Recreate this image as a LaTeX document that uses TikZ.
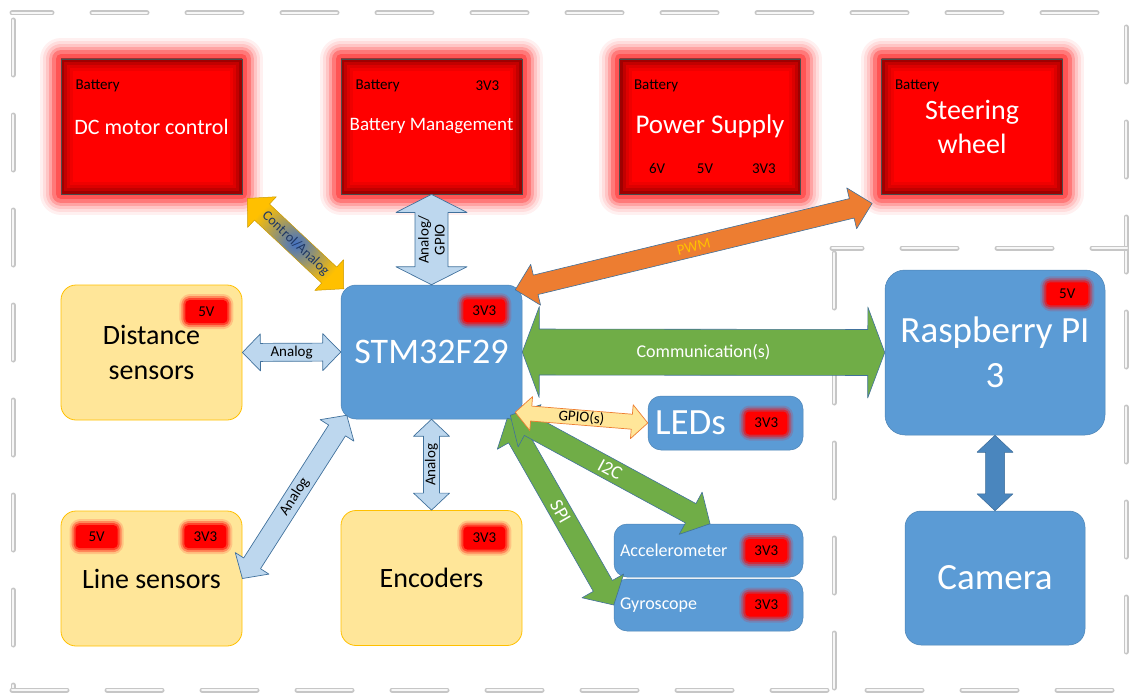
\documentclass[tikz,border=0pt]{standalone}
\usepackage{fontspec}
\setmainfont{Carlito}
\usetikzlibrary{calc}

\definecolor{msblue}{HTML}{5B9BD5}
\definecolor{msyellow}{HTML}{FFE699}
\definecolor{msgold}{HTML}{FFC000}
\definecolor{msgreen}{HTML}{70AD47}
\definecolor{msorange}{HTML}{ED7D31}
\definecolor{mslight}{HTML}{BDD7EE}
\definecolor{msedge}{HTML}{41719C}
\definecolor{camblue}{HTML}{4A86BE}
\definecolor{ctrlblue}{HTML}{4472C4}
\definecolor{ctrltext}{HTML}{203864}
\definecolor{glowred}{HTML}{FF3B3B}

\newcommand\fs[2]{\fontsize{#1}{#2}\selectfont}

% double headed block arrow: name, style, from, to, shaft half, head half, head length, label, label style
\newcommand\barrow[9]{%
  \draw[#2] (#3) -- ($(#3)!#7!(#4)!#6!90:(#4)$) -- ($(#3)!#7!(#4)!#5!90:(#4)$)
    -- ($(#4)!#7!(#3)!#5!-90:(#3)$) -- ($(#4)!#7!(#3)!#6!-90:(#3)$) -- (#4)
    -- ($(#4)!#7!(#3)!#6!90:(#3)$) -- ($(#4)!#7!(#3)!#5!90:(#3)$)
    -- ($(#3)!#7!(#4)!#5!-90:(#4)$) -- ($(#3)!#7!(#4)!#6!-90:(#4)$) -- cycle;
  \path let \p1=($(#4)-(#3)$), \n1={atan2(\y1,\x1)} in
    node[alabel, #9, rotate=\n1] (#1) at ($(#3)!.5!(#4)$) {#8};}

\tikzset{
  frame/.style={draw=gray!45, double=gray!6, double distance=2pt, line width=1.5pt,
    line cap=round, dash pattern=on 55pt off 40pt},
  redbox/.style={fill=red, draw=black!70, line width=.8pt,
    minimum width=181pt, minimum height=135pt, text=white, align=center,
    preaction={draw=glowred, draw opacity=.08, line width=42pt, line join=round},
    preaction={draw=glowred, draw opacity=.1, line width=36pt, line join=round},
    preaction={draw=glowred, draw opacity=.15, line width=30pt, line join=round},
    preaction={draw=glowred, draw opacity=.25, line width=24pt, line join=round},
    preaction={draw=glowred, draw opacity=.4, line width=18pt, line join=round},
    preaction={draw=glowred, draw opacity=.6, line width=10pt, line join=round},
    path picture={
      \foreach \w/\o in {24/.06, 18/.08, 12/.12, 6/.18}
        \draw[black, line width=\w pt, opacity=\o]
          (path picture bounding box.south west) rectangle (path picture bounding box.north east);
    }},
  tag/.style={inner sep=0pt, text=black, font=\fs{15}{18}},
  volt/.style={fill=red, minimum width=42pt, minimum height=23pt, inner sep=0pt,
    rounded corners=4pt, text=black, font=\fs{15}{18},
    preaction={draw=red, draw opacity=.15, line width=12pt, line join=round},
    preaction={draw=red, draw opacity=.3, line width=8pt, line join=round},
    preaction={draw=red, draw opacity=.5, line width=4pt, line join=round}},
  yellowbox/.style={fill=msyellow, draw=msgold, line width=.8pt, rounded corners=15pt,
    minimum width=181pt, minimum height=135pt, align=center, font=\fs{28}{35}},
  bluebox/.style={fill=msblue, draw=msblue!85!black, line width=.5pt, rounded corners=15pt,
    text=white, align=center},
  alabel/.style={inner sep=0pt, text=black, font=\fs{15}{16}},
  lightarrow/.style={fill=mslight, draw=msedge, line width=.7pt, line join=round},
  greenarrow/.style={fill=msgreen, draw=msedge, line width=.6pt, line join=round},
  orangearrow/.style={fill=msorange, draw=msedge, line width=.6pt, line join=round},
  gpioarrow/.style={fill=msyellow, draw=msorange, line width=.7pt, line join=round},
  camarrow/.style={fill=camblue, draw=camblue!80!black, line width=.5pt, line join=round},
  ctrlarrow/.style={inner color=ctrlblue, outer color=msgold, draw=msgold!80!black,
    line width=.5pt, line join=round},
}

\begin{document}
\begin{tikzpicture}[x=1pt, y=-1pt]
  \useasboundingbox (0,0) rectangle (1129,693);

  % dashed frames
  \draw[frame, dash phase=15pt] (12,13) -- (1127,13);
  \draw[frame] (13,20) -- (13,690);
  \draw[frame] (12,690) -- (1127,690);
  \draw[frame] (1126,27) -- (1126,690);
  \draw[frame] (834,253) -- (834,690);
  \draw[frame, dash phase=25pt] (832,248) -- (1127,248);

  % red blocks
  \node[redbox, font=\fs{22}{26}] (dc) at (151.5,126.5) {DC motor control};
  \node[redbox, font=\fs{19}{23}] (bms) at (431.5,126.5) {Battery Management};
  \node[redbox, font=\fs{27}{32}] (psu) at (710,126.5) {Power Supply};
  \node[redbox, font=\fs{28}{34}] (steer) at (972,126.5) {Steering\\wheel};

  \node[tag] (dcbat) at ($(dc.north west)+(37,27)$) {Battery};
  \node[tag] (bmsbat) at ($(bms.north west)+(37,27)$) {Battery};
  \node[tag] (bmsv) at ($(bms.north east)+(-35,27)$) {3V3};
  \node[tag] (psubat) at ($(psu.north west)+(37,27)$) {Battery};
  \node[tag] (psu6) at ($(psu.south west)+(38,-26)$) {6V};
  \node[tag] (psu5) at ($(psu.south)+(-5,-26)$) {5V};
  \node[tag] (psu3) at ($(psu.south east)+(-37,-26)$) {3V3};
  \node[tag] (steerbat) at ($(steer.north west)+(36,27)$) {Battery};

  % sensors
  \node[yellowbox] (dist) at (151.5,352.5) {Distance\\sensors};
  \node[yellowbox] (lines) at (151.5,578.5) {Line sensors};
  \node[yellowbox] (enc) at (431.5,578) {Encoders};

  % blue blocks
  \node[bluebox, minimum width=181pt, minimum height=134pt, font=\fs{36}{40}] (stm) at (431.5,352) {STM32F29};
  \node[bluebox, text width=141pt, align=left, inner xsep=7pt, minimum height=54pt,
    rounded corners=13pt, font=\fs{37}{40}] (leds) at (725.5,423) {LEDs};
  \node[bluebox, text width=177pt, align=left, inner xsep=6pt, minimum height=53pt,
    rounded corners=13pt, font=\fs{18}{20}] (acc) at (708.5,550.5) {Accelerometer};
  \node[bluebox, text width=177pt, align=left, inner xsep=6pt, minimum height=52pt,
    rounded corners=13pt, font=\fs{18}{20}] (gyro) at (708.5,605) {Gyroscope};
  \node[bluebox, minimum width=220pt, minimum height=165pt, rounded corners=20pt,
    font=\fs{37}{45}] (rpi) at (995,352.5) {Raspberry PI\\3};
  \node[bluebox, minimum width=180pt, minimum height=134pt, rounded corners=16pt,
    font=\fs{37}{40}] (cam) at (995,578) {Camera};

  % supply badges
  \node[volt] (distv) at ($(dist.north east)+(-36,27)$) {5V};
  \node[volt] (linesv5) at ($(lines.north west)+(36,26)$) {5V};
  \node[volt] (linesv3) at ($(lines.north east)+(-37,26)$) {3V3};
  \node[volt] (encv) at ($(enc.north east)+(-38,28)$) {3V3};
  \node[volt] (stmv) at ($(stm.north east)+(-38,26)$) {3V3};
  \node[volt] (ledsv) at ($(leds.east)+(-37,0)$) {3V3};
  \node[volt] (accv) at ($(acc.east)+(-37,0)$) {3V3};
  \node[volt] (gyrov) at ($(gyro.east)+(-37,0)$) {3V3};
  \node[volt] (rpiv) at ($(rpi.north east)+(-38,24)$) {5V};

  % arrow ends
  \coordinate (ctrlA) at ($(dc.south east)+(5,4)$);
  \coordinate (ctrlB) at ($(stm.north west)+(3,4)$);
  \coordinate (pwmA) at ($(stm.north east)+(-7,5)$);
  \coordinate (pwmB) at ($(steer.south west)+(-9,9)$);
  \coordinate (linesB) at ($(stm.south west)+(6,-4)$);
  \coordinate (gpioA) at ($(stm.south east)+(-7,-7)$);
  \coordinate (i2cA) at ($(stm.south east)+(-12,-4)$);
  \coordinate (i2cB) at ($(acc.north)+(1.5,0)$);
  \coordinate (spiA) at ($(stm.south east)+(-15,-1)$);

  % links
  \barrow{ctrltxt}{ctrlarrow}{ctrlA}{ctrlB}{11pt}{21pt}{20pt}{Control/Analog}{text=ctrltext, font=\fs{14}{15}}
  \barrow{bmstxt}{lightarrow}{stm.north}{bms.south}{16.5pt}{35.5pt}{18pt}{Analog/\\GPIO}{align=center}
  \barrow{disttxt}{lightarrow}{dist.east}{stm.west}{9pt}{18.5pt}{18pt}{Analog}{}
  \barrow{linestxt}{lightarrow}{lines.east}{linesB}{10pt}{20pt}{18pt}{Analog}{}
  \barrow{enctxt}{lightarrow}{enc.north}{stm.south}{8pt}{18pt}{17pt}{Analog}{}
  \barrow{pwmtxt}{orangearrow}{pwmA}{pwmB}{10pt}{21pt}{21pt}{PWM}{text=msgold}
  \barrow{comtxt}{greenarrow}{stm.east}{rpi.west}{23pt}{45.5pt}{17pt}{Communication(s)}{text=white, font=\fs{18}{20}}
  \barrow{spitxt}{greenarrow}{spiA}{gyro.west}{11pt}{24pt}{22pt}{SPI}{text=white, font=\fs{19}{20}}
  \barrow{i2ctxt}{greenarrow}{i2cA}{i2cB}{11pt}{24pt}{22pt}{I2C}{text=white, font=\fs{19}{20}}
  \barrow{gpiotxt}{gpioarrow}{gpioA}{leds.west}{7.5pt}{17pt}{16pt}{GPIO(s)}{}
  \barrow{camtxt}{camarrow}{rpi.south}{cam.north}{9.5pt}{18pt}{17pt}{}{}
\end{tikzpicture}
\end{document}
